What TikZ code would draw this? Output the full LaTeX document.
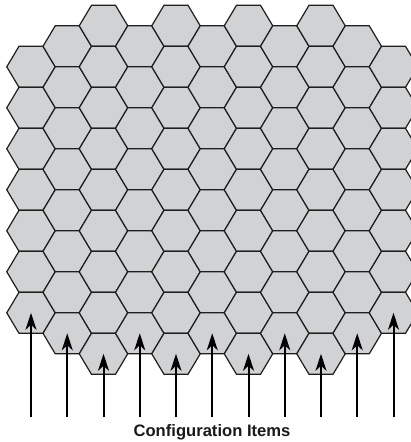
\documentclass[tikz,border=0pt]{standalone}
\usepackage{fontspec}
\setmainfont{Liberation Sans}
\usetikzlibrary{arrows.meta}
\definecolor{Cell}{HTML}{D1D2D4}
\definecolor{Edge}{HTML}{1E1E1E}
\tikzset{cell/.style={fill=Cell,draw=Edge,line width=1.2pt,line join=miter},item/.style={-{Stealth[length=17pt,width=11pt,inset=5pt]},draw=black,line width=2pt},caption/.style={font=\fontsize{16.6}{19}\selectfont\bfseries,inner sep=0pt,text=black!90}}

\begin{document}
\begin{tikzpicture}[x=1pt,y=-1pt]
\useasboundingbox (0,0) rectangle (411,442);
\clip (0,0) rectangle (411,442);
% columns: index / top edge / number of cells
\foreach \c/\top/\n in {0/46.3/7,1/25.8/8,2/5.3/9,3/25.8/8,4/5.3/9,5/25.8/8,6/5.3/9,7/25.8/8,8/5.3/9,9/25.8/8,10/46.3/7}{
  \pgfmathsetmacro\xc{31+36.25*\c}
  \foreach \r in {1,...,\n}{
    \pgfmathsetmacro\yc{\top+41*\r-20.5}
    \draw[cell,shift={(\xc,\yc)}] (-12,-20.5) -- (12,-20.5) -- (24.25,0) -- (12,20.5) -- (-12,20.5) -- (-24.25,0) -- cycle;
  }
  \pgfmathsetmacro\yt{\top+41*\n-20.5}
  \coordinate (tip-\c) at (\xc,\yt);
  \coordinate (foot-\c) at (\xc,417);
}
\foreach \c in {0,...,10}
  \draw[item] (foot-\c) -- (tip-\c);
\node[caption,anchor=base] (items) at (212,436) {Configuration Items};
\end{tikzpicture}
\end{document}
